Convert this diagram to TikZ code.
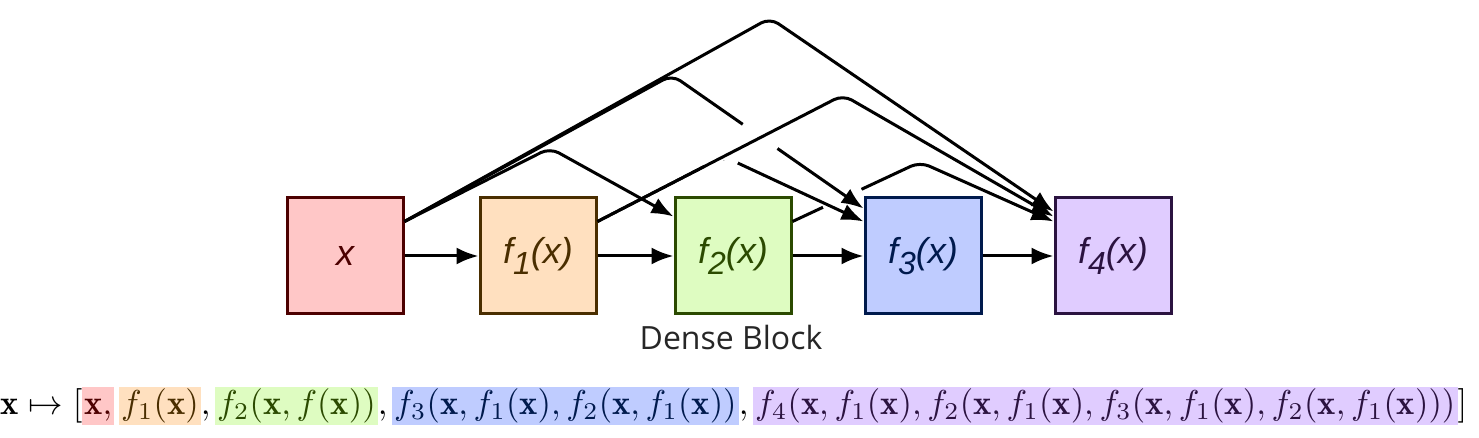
\documentclass[tikz,border=0pt]{standalone}
\usepackage{fontspec}
\usepackage{graphicx}
\usetikzlibrary{arrows.meta,calc}
\newfontfamily\lblfont{Liberation Sans}
\newfontfamily\capfont{Open Sans}
\definecolor{xfill}{HTML}{FFC7C7}
\definecolor{xline}{HTML}{4D0000}
\definecolor{fonefill}{HTML}{FFE0BF}
\definecolor{foneline}{HTML}{4A2E00}
\definecolor{ftwofill}{HTML}{DEFCC1}
\definecolor{ftwoline}{HTML}{2B4A00}
\definecolor{fthreefill}{HTML}{BFCCFF}
\definecolor{fthreeline}{HTML}{001A4D}
\definecolor{ffourfill}{HTML}{E0CCFF}
\definecolor{ffourline}{HTML}{2B1340}
\newcommand{\lblsub}[1]{\raisebox{-0.55ex}{\fontsize{16}{16}\selectfont #1}}
\newcommand{\hlterm}[3]{\colorbox{#1}{\color{#2}$\mathstrut #3$}}
\newcommand{\sepc}{{,}\mkern2.5mu}
\setlength{\fboxsep}{0.6pt}
\tikzset{
  blk/.style={draw, line width=1.5pt, minimum size=58pt, inner sep=0pt,
    font=\lblfont\itshape\fontsize{18}{20}\selectfont},
  conn/.style={line width=1.5pt, rounded corners=5pt, -{Latex[length=11pt,width=8.5pt]}},
  gap/.style={white, line width=3.5pt, line cap=butt}
}
\begin{document}
\begin{tikzpicture}[x=0.5pt,y=-0.5pt]
\useasboundingbox (0,0) rectangle (1479,438);
\node[blk, fill=xfill, draw=xline, text=xline] (x) at (345,256) {x};
\node[blk, fill=fonefill, draw=foneline, text=foneline] (f1) at (538,256) {f\lblsub{1}(x)};
\node[blk, fill=ftwofill, draw=ftwoline, text=ftwoline] (f2) at (733,256) {f\lblsub{2}(x)};
\node[blk, fill=fthreefill, draw=fthreeline, text=fthreeline] (f3) at (923,256) {f\lblsub{3}(x)};
\node[blk, fill=ffourfill, draw=ffourline, text=ffourline] (f4) at (1113,256) {f\lblsub{4}(x)};
\node[font=\capfont\fontsize{16}{18}\selectfont, text=black!85] (cap) at (731,338) {Dense Block};
\coordinate (x-o) at ($(x.north east)+(0,25)$);
\coordinate (f1-o) at ($(f1.north east)+(0,25)$);
\coordinate (f2-o) at ($(f2.north east)+(0,25)$);
\coordinate (f2-i) at ($(f2.north west)+(0,20)$);
\coordinate (f3-a) at ($(f3.north west)+(0,12)$);
\coordinate (f3-b) at ($(f3.north west)+(0,25)$);
\coordinate (f4-a) at ($(f4.north west)+(0,15)$);
\coordinate (f4-b) at ($(f4.north west)+(0,20)$);
\coordinate (f4-c) at ($(f4.north west)+(0,25)$);
\coordinate (p02) at (550,148);
\coordinate (p03) at (672,75);
\coordinate (p04) at (770,18);
\coordinate (p14) at (843,95);
\coordinate (p13) at ($(f1-o)!0.514!(p14)$);
\coordinate (p24) at (920,162);
\draw[conn] (f2-o) -- (p24) -- (f4-c);
\draw[gap] ($(f2-o)!0.24!(p24)$) -- ($(f2-o)!0.54!(p24)$);
\draw[conn] (x-o) -- (p03) -- (f3-a);
\draw[conn] (f1-o) -- (p13) -- (f3-b);
\draw[gap] ($(p03)!0.37!(f3-a)$) -- ($(p03)!0.55!(f3-a)$);
\draw[gap] ($(f1-o)!0.85!(p13)$) -- (p13) -- ($(p13)!0.1!(f3-b)$);
\draw[conn] (f1-o) -- (p14) -- (f4-b);
\draw[conn] (x-o) -- (p02) -- (f2-i);
\draw[conn] (x-o) -- (p04) -- (f4-a);
\draw[conn] (x) -- (f1);
\draw[conn] (f1) -- (f2);
\draw[conn] (f2) -- (f3);
\draw[conn] (f3) -- (f4);
\node (eq) at (734,406) {\resizebox{733pt}{!}{$\mathbf{x}\mapsto[\hlterm{xfill}{xline}{\mathbf{x},}\mkern2.5mu
  \hlterm{fonefill}{foneline}{f_1(\mathbf{x})}\sepc
  \hlterm{ftwofill}{ftwoline}{f_2(\mathbf{x}, f(\mathbf{x}))}\sepc
  \hlterm{fthreefill}{fthreeline}{f_3(\mathbf{x}, f_1(\mathbf{x}), f_2(\mathbf{x}, f_1(\mathbf{x}))}\sepc
  \hlterm{ffourfill}{ffourline}{f_4(\mathbf{x}, f_1(\mathbf{x}), f_2(\mathbf{x}, f_1(\mathbf{x}), f_3(\mathbf{x}, f_1(\mathbf{x}), f_2(\mathbf{x}, f_1(\mathbf{x})))}]$}};
\end{tikzpicture}
\end{document}
